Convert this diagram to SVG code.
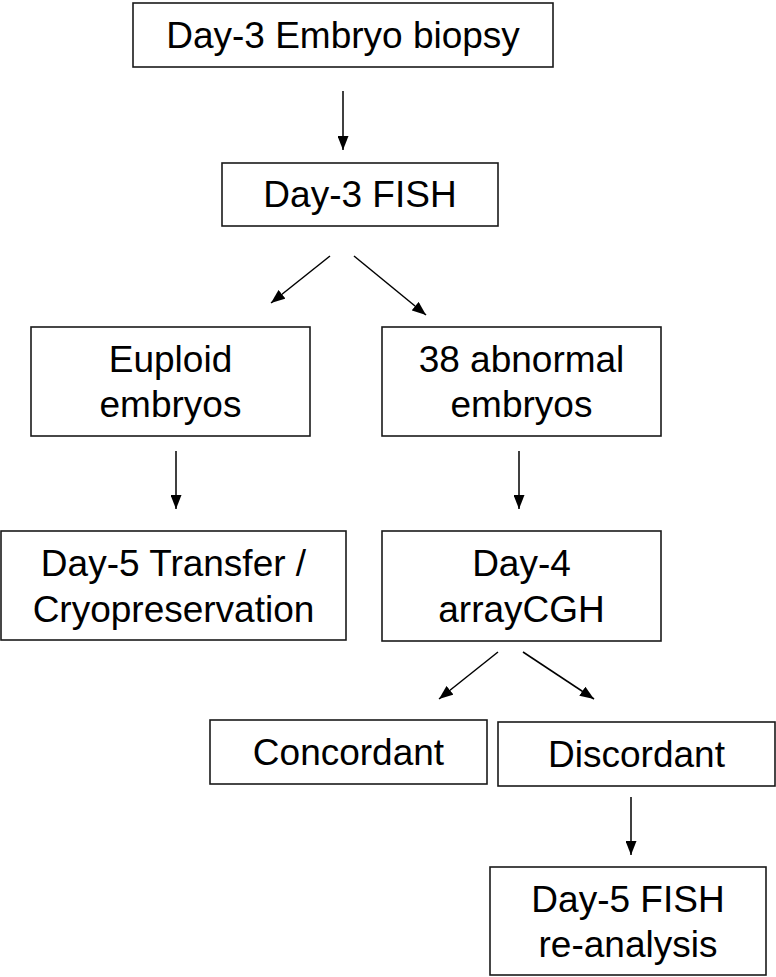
<svg xmlns="http://www.w3.org/2000/svg" width="776" height="977" viewBox="0 0 776 977">
<style>
.box{fill:#fff;stroke:#1a1a1a;stroke-width:1.6}
.t{font-family:"Liberation Sans",Arial,sans-serif;font-size:37px;fill:#000;text-anchor:middle}
.c{stroke:#000;stroke-width:1.5;fill:none;marker-end:url(#ah)}
</style>
<defs>
<marker id="ah" markerUnits="userSpaceOnUse" markerWidth="14" markerHeight="11" refX="14" refY="5.5" orient="auto" viewBox="0 0 14 11">
<path d="M0,0 L14,5.5 L0,11 z" fill="#000"/>
</marker>
</defs>
<rect width="776" height="977" fill="#fff"/>
<g id="connectors">
<line class="c" x1="343" y1="91" x2="343" y2="150"/>
<line class="c" x1="330" y1="256" x2="271" y2="303"/>
<line class="c" x1="354" y1="256" x2="426" y2="315"/>
<line class="c" x1="176" y1="451" x2="176" y2="509"/>
<line class="c" x1="519" y1="451" x2="519" y2="509"/>
<line class="c" x1="498" y1="652" x2="439" y2="699"/>
<line class="c" x1="523" y1="652" x2="594" y2="699"/>
<line class="c" x1="631" y1="797" x2="631" y2="855"/>
</g>
<g id="n1"><rect class="box" x="133" y="3" width="420" height="64"/><text class="t" x="343" y="48">Day-3 Embryo biopsy</text></g>
<g id="n2"><rect class="box" x="222" y="163" width="276" height="63"/><text class="t" x="360" y="207">Day-3 FISH</text></g>
<g id="n3"><rect class="box" x="31" y="327" width="279" height="109"/><text class="t" x="170.5" y="372">Euploid</text><text class="t" x="170.5" y="417">embryos</text></g>
<g id="n4"><rect class="box" x="382" y="327" width="279" height="109"/><text class="t" x="521.5" y="372">38 abnormal</text><text class="t" x="521.5" y="417">embryos</text></g>
<g id="n5"><rect class="box" x="1" y="531" width="345" height="109"/><text class="t" x="173.5" y="576">Day-5 Transfer /</text><text class="t" x="173.5" y="622">Cryopreservation</text></g>
<g id="n6"><rect class="box" x="382" y="531" width="279" height="110"/><text class="t" x="521.5" y="576">Day-4</text><text class="t" x="521.5" y="622">arrayCGH</text></g>
<g id="n7"><rect class="box" x="210" y="720" width="277" height="64"/><text class="t" x="348.5" y="765">Concordant</text></g>
<g id="n8"><rect class="box" x="498" y="722" width="277" height="64"/><text class="t" x="636.5" y="767">Discordant</text></g>
<g id="n9"><rect class="box" x="490" y="867" width="276" height="108"/><text class="t" x="628" y="912">Day-5 FISH</text><text class="t" x="628" y="957">re-analysis</text></g>
</svg>
